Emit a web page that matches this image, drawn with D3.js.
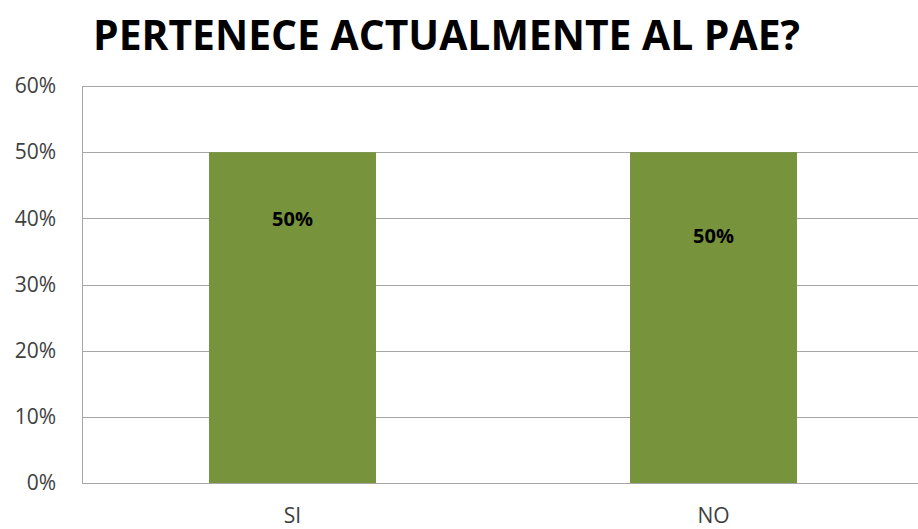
<!DOCTYPE html>
<html><head><meta charset="utf-8">
<script src="https://cdn.jsdelivr.net/npm/d3@7"></script>
<style>body{margin:0;background:#fff}svg{display:block}</style>
</head><body>
<svg id="c" width="918" height="529"></svg>
<script>
const categories = ["SI", "NO"];
const values = [0.5, 0.5];
const labels = ["50%", "50%"];
const labelValues = [0.4, 0.375];
const yTicks = [0, 0.1, 0.2, 0.3, 0.4, 0.5, 0.6];
const title = "PERTENECE ACTUALMENTE AL PAE?";

const svg = d3.select("#c");
const x = d3.scaleBand().domain(categories).range([82, 924]).paddingInner(0.6034).paddingOuter(0.3017);
const y = d3.scaleLinear().domain([0, 0.6]).range([483, 86]);

svg.append("text").attr("x", 93).attr("y", 50).attr("textLength", 707).attr("lengthAdjust", "spacingAndGlyphs")
  .attr("font-family", "Open Sans").attr("font-weight", "bold").attr("font-size", 41).attr("fill", "#000").text(title);

const grid = svg.append("g");
grid.selectAll("line").data(yTicks).join("line")
  .attr("x1", 82).attr("x2", 918).attr("y1", d => Math.round(y(d)) + 0.5).attr("y2", d => Math.round(y(d)) + 0.5)
  .attr("stroke", "#a6a6a6").attr("stroke-width", 1);
svg.append("line").attr("x1", 82.5).attr("x2", 82.5).attr("y1", y(0.6)).attr("y2", y(0) + 0.5)
  .attr("stroke", "#a6a6a6");

const yAxis = d3.axisLeft(y).tickValues(yTicks).tickFormat(d3.format(".0%")).tickSize(0).tickPadding(26);
const ga = svg.append("g").attr("transform", "translate(82,0)").call(yAxis);
ga.select(".domain").remove();
ga.selectAll("text").attr("font-family", "Open Sans").attr("font-size", 21).attr("fill", "#404040");

svg.selectAll("rect.bar").data(categories).join("rect").attr("class", "bar")
  .attr("x", d => x(d)).attr("width", x.bandwidth())
  .attr("y", (d, i) => y(values[i])).attr("height", (d, i) => y(0) - y(values[i]))
  .attr("fill", "#77933c");

svg.selectAll("text.val").data(categories).join("text").attr("class", "val")
  .attr("x", d => x(d) + x.bandwidth() / 2).attr("y", (d, i) => y(labelValues[i]) + 8)
  .attr("text-anchor", "middle").attr("font-family", "Open Sans").attr("font-weight", "bold")
  .attr("font-size", 20).attr("fill", "#000").text((d, i) => labels[i]);

const xAxis = d3.axisBottom(x).tickSize(0).tickPadding(25);
const gx = svg.append("g").attr("transform", "translate(0,483)").call(xAxis);
gx.select(".domain").remove();
gx.selectAll("text").attr("font-family", "Open Sans").attr("font-size", 21).attr("fill", "#404040");
</script>
</body></html>
